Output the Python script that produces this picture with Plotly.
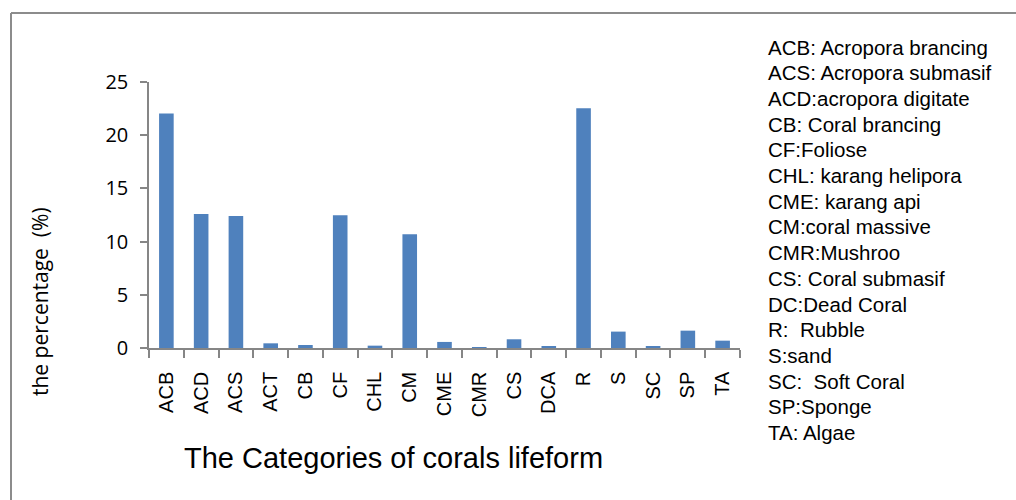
import plotly.graph_objects as go

categories = ["ACB", "ACD", "ACS", "ACT", "CB", "CF", "CHL", "CM", "CME", "CMR",
              "CS", "DCA", "R", "S", "SC", "SP", "TA"]
percentages = [22.03, 12.6, 12.4, 0.44, 0.28, 12.47, 0.22, 10.69, 0.57, 0.05,
               0.82, 0.13, 22.53, 1.54, 0.16, 1.63, 0.69]
legend_lines = ["ACB: Acropora brancing", "ACS: Acropora submasif", "ACD:acropora digitate",
                "CB: Coral brancing", "CF:Foliose", "CHL: karang helipora", "CME: karang api",
                "CM:coral massive", "CMR:Mushroo", "CS: Coral submasif", "DC:Dead Coral",
                "R:  Rubble", "S:sand", "SC:  Soft Coral", "SP:Sponge", "TA: Algae"]
y_ticks = [0, 5, 10, 15, 20, 25]

W, H = 1016, 500
L, R, T, B = 149, 276, 82, 152
pw, ph = W - L - R, H - T - B

fig = go.Figure(go.Bar(x=categories, y=percentages, marker_color="#4f81bd",
                       marker_line_width=0, width=0.42))

def px(x):
    return (x - L) / pw

def py(y):
    return (H - B - y) / ph

annotations = []
for i, line in enumerate(legend_lines):
    annotations.append(dict(text=line, xref="paper", yref="paper", x=px(766), y=py(47 + i * 25.7),
                            xanchor="left", yanchor="middle", showarrow=False,
                            font=dict(family="Liberation Sans, Arial", size=20.5, color="#000")))
annotations.append(dict(text="The Categories of corals lifeform", xref="paper", yref="paper",
                        x=px(393), y=py(458), xanchor="center", yanchor="middle", showarrow=False,
                        font=dict(family="Liberation Sans, Arial", size=29, color="#000")))
annotations.append(dict(text="the percentage  (%)", xref="paper", yref="paper",
                        x=px(40), y=py(302), xanchor="center", yanchor="middle", showarrow=False,
                        textangle=-90,
                        font=dict(family="Open Sans, Liberation Sans", size=21, color="#000")))

shapes = [
    dict(type="line", xref="paper", yref="paper", x0=px(11), x1=px(W + 5), y0=py(13), y1=py(13),
         line=dict(color="#8c8c8c", width=2)),
    dict(type="line", xref="paper", yref="paper", x0=px(11), x1=px(11), y0=py(13), y1=py(H + 5),
         line=dict(color="#8c8c8c", width=2)),
]

fig.update_layout(
    width=W, height=H,
    margin=dict(l=L, r=R, t=T, b=B, autoexpand=False),
    paper_bgcolor="white", plot_bgcolor="white",
    showlegend=False,
    annotations=annotations,
    shapes=shapes,
    xaxis=dict(range=[-0.5, 16.5], type="category", tickson="boundaries", ticks="outside",
               ticklen=8, tickcolor="#868686", tickwidth=1.5,
               showline=True, linecolor="#868686", linewidth=1.5, showgrid=False,
               tickangle=-90, ticklabelstandoff=14,
               tickfont=dict(family="Liberation Sans, Arial", size=20, color="#000")),
    yaxis=dict(range=[0, 25], tickvals=y_ticks, ticks="outside", ticklen=7,
               tickcolor="#868686", tickwidth=1.5, showline=True, linecolor="#868686",
               linewidth=1.5, showgrid=False, zeroline=False, ticklabelstandoff=8,
               tickfont=dict(family="Open Sans, Liberation Sans", size=20, color="#000")),
)

fig.write_html("out.html", config={"displayModeBar": False},
               post_script="document.body.style.margin='0';document.body.style.overflow='hidden';")
